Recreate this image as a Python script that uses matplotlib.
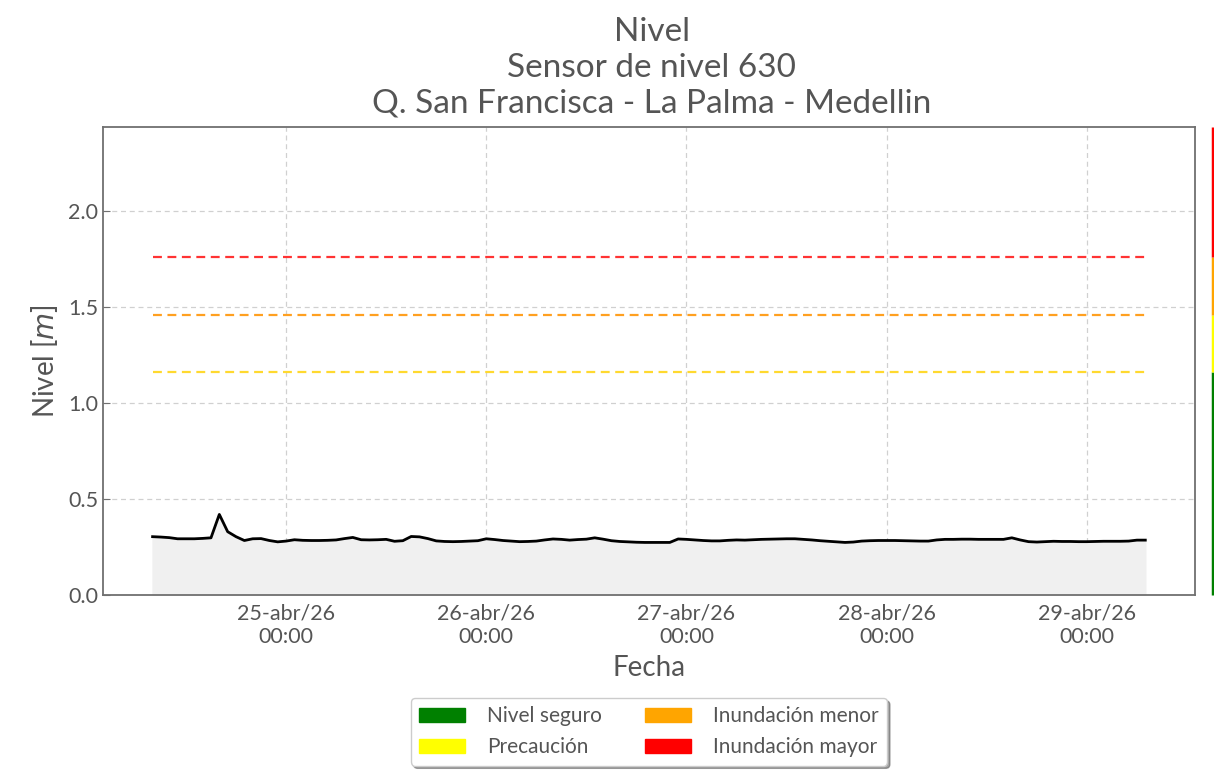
import matplotlib
matplotlib.use("Agg")
import matplotlib.pyplot as plt
import matplotlib.dates as mdates
import matplotlib.transforms as mtransforms
from matplotlib.patches import Patch
import numpy as np
import pandas as pd

plt.rcParams['font.family'] = ['Lato', 'DejaVu Sans']

# ---- data ----
start_time = "2026-04-24 08:00"
level_m = [
    0.304, 0.302, 0.299, 0.293, 0.293, 0.293, 0.295, 0.298, 0.420, 0.330,
    0.304, 0.284, 0.293, 0.294, 0.284, 0.277, 0.281, 0.288, 0.285, 0.284,
    0.284, 0.285, 0.287, 0.294, 0.300, 0.288, 0.287, 0.288, 0.290, 0.280,
    0.283, 0.305, 0.303, 0.294, 0.282, 0.279, 0.278, 0.279, 0.281, 0.283,
    0.293, 0.289, 0.284, 0.281, 0.278, 0.279, 0.281, 0.287, 0.292, 0.290,
    0.286, 0.289, 0.291, 0.298, 0.291, 0.283, 0.279, 0.277, 0.275, 0.274,
    0.274, 0.274, 0.274, 0.292, 0.290, 0.287, 0.284, 0.282, 0.282, 0.285,
    0.287, 0.286, 0.288, 0.290, 0.291, 0.292, 0.293, 0.293, 0.290, 0.287,
    0.283, 0.280, 0.277, 0.274, 0.276, 0.281, 0.283, 0.284, 0.284, 0.284,
    0.283, 0.282, 0.281, 0.281, 0.287, 0.290, 0.290, 0.291, 0.291, 0.290,
    0.290, 0.290, 0.290, 0.298, 0.287, 0.278, 0.276, 0.278, 0.280, 0.279,
    0.279, 0.278, 0.278, 0.279, 0.280, 0.280, 0.280, 0.281, 0.286, 0.286,
]
times = pd.date_range(start_time, periods=len(level_m), freq="h")

threshold_names = ["Precaución", "Inundación menor", "Inundación mayor"]
threshold_values = [1.16, 1.46, 1.76]
threshold_colors = ["#ffd92f", "#ffa020", "#ff3333"]

legend_labels = ["Nivel seguro", "Precaución", "Inundación menor", "Inundación mayor"]
legend_colors = ["green", "yellow", "orange", "red"]

y_max = 2.44
month_abbr = ["ene", "feb", "mar", "abr", "may", "jun", "jul", "ago", "sep", "oct", "nov", "dic"]

title_lines = ["Nivel", "Sensor de nivel 630", "Q. San Francisca - La Palma - Medellin"]

# ---- figure ----
text_color = "#555555"
fig = plt.figure(figsize=(12.14, 7.72), dpi=100)
ax = fig.add_axes([0.0848, 0.2293, 0.8995, 0.6062])

ax.fill_between(times, 0, level_m, color="#f0f0f0", zorder=1)
ax.plot(times, level_m, color="black", lw=2, zorder=3)

for v, c in zip(threshold_values, threshold_colors):
    ax.plot([times[0], times[-1]], [v, v], color=c, ls=(0, (4, 2.5)), lw=1.6, zorder=2)

ax.set_ylim(0, y_max)
ax.set_yticks([0.0, 0.5, 1.0, 1.5, 2.0])
ax.yaxis.set_major_formatter(matplotlib.ticker.FormatStrFormatter("%.1f"))

ax.xaxis.set_major_locator(mdates.DayLocator())
def fmt(x, pos=None):
    d = mdates.num2date(x)
    return f"{d.day:02d}-{month_abbr[d.month-1]}/{d.year % 100:02d}\n{d.hour:02d}:{d.minute:02d}"
ax.xaxis.set_major_formatter(matplotlib.ticker.FuncFormatter(fmt))

ax.grid(True, color="#d0d0d0", ls=(0, (4, 3)), lw=0.9)
ax.set_axisbelow(True)
for s in ax.spines.values():
    s.set_color("#707070")
    s.set_linewidth(1.3)
ax.tick_params(direction="in", length=5, color="#707070", labelcolor=text_color, labelsize=15.5)
ax.tick_params(axis="x", pad=6)

ax.set_xlabel("Fecha", fontsize=20, color=text_color, labelpad=6)
ax.set_ylabel("Nivel [$m$]", fontsize=20, color=text_color, labelpad=6)

fig.text(0.537, 0.978, "\n".join(title_lines), ha="center", va="top", fontsize=24,
         color=text_color, linespacing=1.23)

# right side colored scale
trans = mtransforms.blended_transform_factory(ax.transAxes, ax.transData)
bounds = [0] + threshold_values + [y_max]
for i, c in enumerate(legend_colors):
    ax.plot([1.0165, 1.0165], [bounds[i], bounds[i + 1]], color=c, lw=2.5,
            transform=trans, clip_on=False, solid_capstyle="butt")

handles = [Patch(facecolor=c, edgecolor=c) for c in legend_colors]
leg = ax.legend(handles, legend_labels, ncol=2, loc="upper center",
                bbox_to_anchor=(0.5, -0.198), fontsize=15, frameon=True, shadow=True,
                handlelength=2.2, handleheight=0.7, columnspacing=2.1, fancybox=True,
                borderpad=0.4, labelspacing=0.52, handletextpad=1.05)
for t in leg.get_texts():
    t.set_color(text_color)
leg.get_frame().set_edgecolor("#cccccc")

fig.savefig("out.png", dpi=100)
